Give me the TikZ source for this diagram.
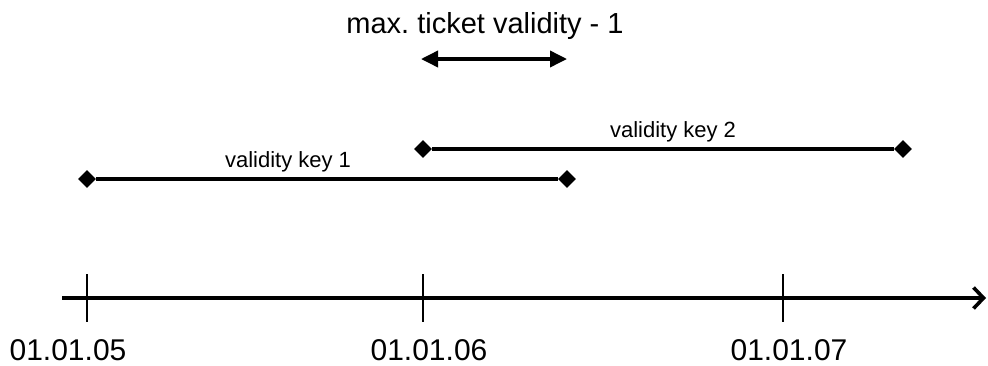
\documentclass[tikz,border=0pt]{standalone}
\usepackage{fontspec}
\setmainfont{Liberation Sans}
\usetikzlibrary{shapes.geometric,arrows.meta}

\begin{document}
\begin{tikzpicture}[x=1pt,y=-1pt]
	\tikzstyle{borne}=[diamond,fill=black,inner sep=0pt,minimum size=18pt]
	\tikzstyle{date}=[anchor=base,font=\fontsize{30}{36}\selectfont]
	\tikzstyle{etiq}=[anchor=base,font=\fontsize{22}{26}\selectfont]
	\tikzstyle{cle}=[line width=3.6pt]
	\tikzstyle{marque}=[line width=2.2pt]

	\useasboundingbox (0,0) rectangle (988,365);

	\node[anchor=base,font=\fontsize{29}{35}\selectfont] (titre) at (485,33)
	{max.\ ticket validity - 1};
	\coordinate (g) at (421,59);
	\coordinate (d) at (567,59);

	\node[borne] (a1) at (87,179) {};
	\node[borne] (a2) at (567,179) {};
	\node[etiq] (t1) at (288,167) {validity key 1};
	\node[borne] (b1) at (423,149) {};
	\node[borne] (b2) at (903,149) {};
	\node[etiq] (t2) at (673,137) {validity key 2};

	\coordinate (debut) at (62,298);
	\coordinate (fin) at (986,298);
	\foreach \x/\lx/\an in {87/68/05,423/429/06,783/789/07}{
		\draw[marque] (\x,274) -- (\x,322);
		\node[date] (j\an) at (\lx,360) {01.01.\an};
	}

	\tikzstyle{fleche}=[{Triangle[length=17pt,width=16pt]}-{Triangle[length=17pt,width=16pt]},cle]
	\tikzstyle{axe}=[-{Straight Barb[length=10pt,width=21pt]},cle]

	\draw[fleche] (g) -- (d);
	\draw[cle] (a1) -- (a2);
	\draw[cle] (b1) -- (b2);
	\draw[axe] (debut) -- (fin);
\end{tikzpicture}
\end{document}
